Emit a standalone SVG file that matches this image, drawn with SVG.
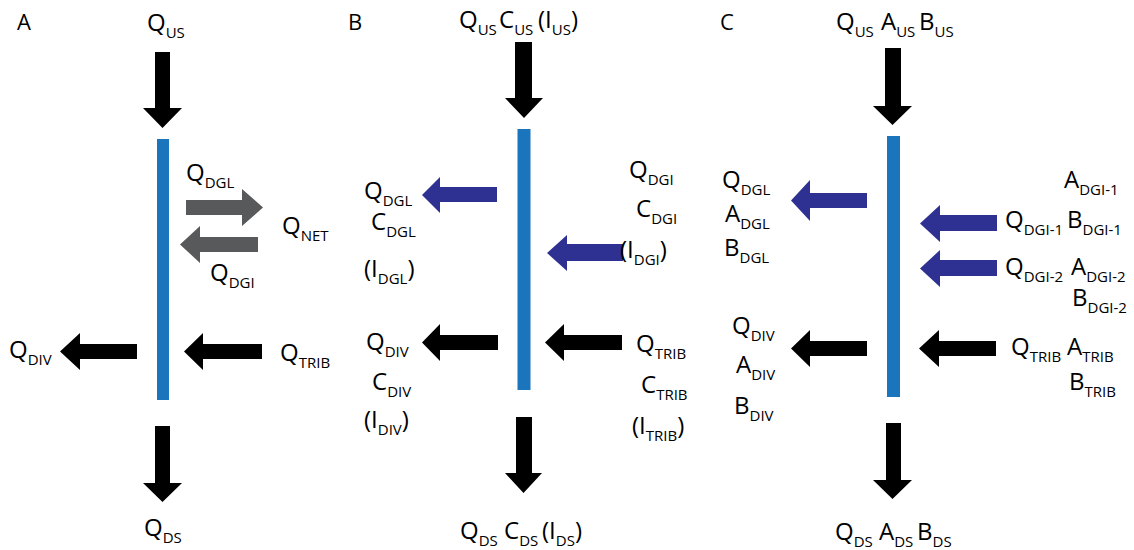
<svg xmlns="http://www.w3.org/2000/svg" width="1134" height="550" viewBox="0 0 1134 550">
<style>
text{font-family:"Open Sans","Liberation Sans",sans-serif;font-size:24px;fill:#000}
.s{font-size:15px}
.p{font-size:22px}
.bar{fill:#1b75bc}
.k{fill:#000}
.g{fill:#58595b}
.b{fill:#2e3192}
</style>
<rect width="1134" height="550" fill="#fff"/>
<!-- panel labels -->
<g id="panel-labels">
<text class="p" x="17" y="30">A</text>
<text class="p" x="348" y="30">B</text>
<text class="p" x="720" y="30">C</text>
</g>
<!-- river bars -->
<g id="bar-A"><rect class="bar" x="157" y="139" width="12" height="261"/></g>
<g id="bar-B"><rect class="bar" x="517.5" y="129" width="13" height="261"/></g>
<g id="bar-C"><rect class="bar" x="887" y="136" width="13" height="261"/></g>
<!-- connectors (flow arrows) -->
<g id="connectors">
<!-- A -->
<polygon class="k" points="155,52 170,52 170,108 182,108 162.5,128 143,108 155,108"/>
<polygon class="k" points="155,426 170,426 170,483 182,483 162.5,502 143,483 155,483"/>
<polygon class="g" points="186,200 242,200 242,189 263,207.5 242,226 242,215 186,215"/>
<polygon class="g" points="258,237 200,237 200,226 180,244.5 200,263 200,252 258,252"/>
<polygon class="k" points="137,344 80,344 80,333 60,351.5 80,370 80,359 137,359"/>
<polygon class="k" points="262,344 203,344 203,333 184,351.5 203,370 203,359 262,359"/>
<!-- B -->
<polygon class="k" points="515,42 532,42 532,98 543,98 524,118 505,98 515,98"/>
<polygon class="k" points="516,417 532,417 532,473 542,473 523.5,493 505,473 516,473"/>
<polygon class="b" points="497,187 440,187 440,177 422,195 440,213 440,202 497,202"/>
<polygon class="b" points="623,244 567,244 567,235 547,253 567,271 567,261 623,261"/>
<polygon class="k" points="498,335 440,335 440,324 422,342.5 440,361 440,350 498,350"/>
<polygon class="k" points="622,335 564,335 564,324 545,342.5 564,361 564,350 622,350"/>
<!-- C -->
<polygon class="k" points="885,48 901,48 901,106 912,106 892.5,125 873,106 885,106"/>
<polygon class="k" points="886,423 901,423 901,480 912,480 892.5,499 873,480 886,480"/>
<polygon class="b" points="867,193 810,193 810,180 791,200.5 810,221 810,208 867,208"/>
<polygon class="b" points="997,215 940,215 940,205 920,223.5 940,242 940,231 997,231"/>
<polygon class="b" points="997,260 940,260 940,250 920,268.5 940,287 940,276 997,276"/>
<polygon class="k" points="867,341 810,341 810,330 791,348.5 810,367 810,356 867,356"/>
<polygon class="k" points="996,341 939,341 939,330 919,348.5 939,367 939,356 996,356"/>
</g>
<!-- Panel A labels -->
<g id="A-QUS"><text x="147" y="31">Q<tspan class="s" dy="7">US</tspan></text></g>
<g id="A-QDGL"><text x="186" y="181">Q<tspan class="s" dy="7">DGL</tspan></text></g>
<g id="A-QNET"><text x="282" y="234">Q<tspan class="s" dy="7">NET</tspan></text></g>
<g id="A-QDGI"><text x="210" y="281">Q<tspan class="s" dy="7">DGI</tspan></text></g>
<g id="A-QDIV"><text x="9" y="358">Q<tspan class="s" dy="7">DIV</tspan></text></g>
<g id="A-QTRIB"><text x="280" y="361">Q<tspan class="s" dy="7">TRIB</tspan></text></g>
<g id="A-QDS"><text x="144" y="536">Q<tspan class="s" dy="7">DS</tspan></text></g>
<!-- Panel B labels -->
<g id="B-US"><text x="459" y="28">Q<tspan class="s" dy="7">US</tspan><tspan x="499" dy="-7">C</tspan><tspan class="s" dy="7">US</tspan><tspan x="538" dy="-7">(I</tspan><tspan class="s" dy="7">US</tspan><tspan dy="-7">)</tspan></text></g>
<g id="B-DGL">
<text x="364" y="199">Q<tspan class="s" dy="7">DGL</tspan></text>
<text x="371" y="230">C<tspan class="s" dy="7">DGL</tspan></text>
<text x="364" y="277">(I<tspan class="s" dy="7">DGL</tspan><tspan dy="-7">)</tspan></text>
</g>
<g id="B-DGI">
<text x="629" y="178">Q<tspan class="s" dy="7">DGI</tspan></text>
<text x="636" y="217">C<tspan class="s" dy="7">DGI</tspan></text>
<text x="620" y="258">(I<tspan class="s" dy="7">DGI</tspan><tspan dy="-7">)</tspan></text>
</g>
<g id="B-DIV">
<text x="366" y="350">Q<tspan class="s" dy="7">DIV</tspan></text>
<text x="372" y="390">C<tspan class="s" dy="7">DIV</tspan></text>
<text x="364" y="428">(I<tspan class="s" dy="7">DIV</tspan><tspan dy="-7">)</tspan></text>
</g>
<g id="B-TRIB">
<text x="636" y="352">Q<tspan class="s" dy="7">TRIB</tspan></text>
<text x="641" y="393">C<tspan class="s" dy="7">TRIB</tspan></text>
<text x="632" y="434">(I<tspan class="s" dy="7">TRIB</tspan><tspan dy="-7">)</tspan></text>
</g>
<g id="B-DS"><text x="460" y="539">Q<tspan class="s" dy="7">DS</tspan><tspan x="504" dy="-7">C</tspan><tspan class="s" dy="7">DS</tspan><tspan x="542" dy="-7">(I</tspan><tspan class="s" dy="7">DS</tspan><tspan dy="-7">)</tspan></text></g>
<!-- Panel C labels -->
<g id="C-US"><text x="836" y="30">Q<tspan class="s" dy="7">US</tspan><tspan x="881" dy="-7">A</tspan><tspan class="s" dy="7">US</tspan><tspan x="919" dy="-7">B</tspan><tspan class="s" dy="7">US</tspan></text></g>
<g id="C-DGL">
<text x="722" y="188">Q<tspan class="s" dy="7">DGL</tspan></text>
<text x="725" y="222">A<tspan class="s" dy="7">DGL</tspan></text>
<text x="724" y="256">B<tspan class="s" dy="7">DGL</tspan></text>
</g>
<g id="C-DGI1">
<text x="1064" y="188">A<tspan class="s" dy="7">DGI-1</tspan></text>
<text x="1005" y="228">Q<tspan class="s" dy="7">DGI-1</tspan><tspan x="1067" dy="-7">B</tspan><tspan class="s" dy="7">DGI-1</tspan></text>
</g>
<g id="C-DGI2">
<text x="1005" y="275">Q<tspan class="s" dy="7">DGI-2</tspan><tspan x="1071" dy="-7">A</tspan><tspan class="s" dy="7">DGI-2</tspan></text>
<text x="1072" y="306">B<tspan class="s" dy="7">DGI-2</tspan></text>
</g>
<g id="C-DIV">
<text x="732" y="334">Q<tspan class="s" dy="7">DIV</tspan></text>
<text x="736" y="373">A<tspan class="s" dy="7">DIV</tspan></text>
<text x="734" y="414">B<tspan class="s" dy="7">DIV</tspan></text>
</g>
<g id="C-TRIB">
<text x="1011" y="355">Q<tspan class="s" dy="7">TRIB</tspan><tspan x="1067" dy="-7">A</tspan><tspan class="s" dy="7">TRIB</tspan></text>
<text x="1069" y="390">B<tspan class="s" dy="7">TRIB</tspan></text>
</g>
<g id="C-DS"><text x="835" y="540">Q<tspan class="s" dy="7">DS</tspan><tspan x="879" dy="-7">A</tspan><tspan class="s" dy="7">DS</tspan><tspan x="917" dy="-7">B</tspan><tspan class="s" dy="7">DS</tspan></text></g>
</svg>
